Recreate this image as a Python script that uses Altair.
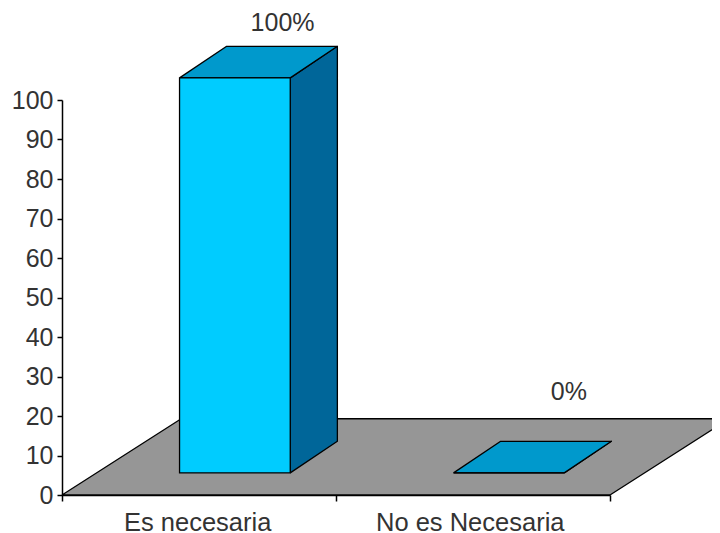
import altair as alt
import pandas as pd

categories = ["Es necesaria", "No es Necesaria"]
values = [100, 0]
labels = ["100%", "0%"]
label_x = [0.805, 1.85]
label_y = [119.5, 26.0]
category_x = [0.495, 1.49]
y_ticks = list(range(0, 101, 10))

FONT = "Liberation Sans"
TEXT = "#333333"
BAR_LEFT = 0.429
BAR_WIDTH = 0.404
BASE = 5.6
DEPTH_X, DEPTH_Y = 0.172, 8.0
FLOOR_X, FLOOR_Y = 0.435, 19.3

x_scale = alt.Scale(domain=[0, 2], range=[0, 548], nice=False, zero=False)
y_scale = alt.Scale(domain=[0, 100], range=[395, 0], nice=False, zero=False)


def X():
    return alt.X("x:Q", scale=x_scale, title=None,
                 axis=alt.Axis(values=[0, 1, 2], labels=False, grid=False, tickSize=6,
                               tickColor="black", domainColor="black", tickWidth=1.5, domainWidth=1.5))


def Y():
    return alt.Y("y:Q", scale=y_scale, title=None,
                 axis=alt.Axis(values=y_ticks, grid=False, tickSize=5, tickColor="black",
                               domainColor="black", tickWidth=1.5, domainWidth=1.5,
                               labelFont=FONT, labelFontSize=25, labelColor=TEXT, labelPadding=4))


def poly(name, pts):
    closed = pts + [pts[0]]
    return [{"c": name, "i": k, "x": p[0], "y": p[1]} for k, p in enumerate(closed)]


floor_pts = poly("floor", [(0, 0), (2, 0), (2 + FLOOR_X, FLOOR_Y), (FLOOR_X, FLOOR_Y)])
front, top, side = [], [], []
for i, (c, v) in enumerate(zip(categories, values)):
    x0 = i + BAR_LEFT
    x1 = x0 + BAR_WIDTH
    yb = BASE
    yt = BASE + v
    front.append({"c": c, "x": x0, "x2": x1, "y": yb, "y2": yt})
    top += poly(c, [(x0, yt), (x1, yt), (x1 + DEPTH_X, yt + DEPTH_Y), (x0 + DEPTH_X, yt + DEPTH_Y)])
    side += poly(c, [(x1, yb), (x1 + DEPTH_X, yb + DEPTH_Y), (x1 + DEPTH_X, yt + DEPTH_Y), (x1, yt)])


def face(rows, colour):
    return alt.Chart(pd.DataFrame(rows)).mark_line(
        fill=colour, stroke="black", strokeWidth=1.3, strokeJoin="round"
    ).encode(x=X(), y=Y(), detail="c:N", order="i:Q")


front_l = alt.Chart(pd.DataFrame(front)).mark_rect(
    color="#00CCFF", stroke="black", strokeWidth=1.3
).encode(x=X(), x2="x2:Q", y=Y(), y2="y2:Q")

val_text = alt.Chart(pd.DataFrame({"t": labels, "x": label_x, "y": label_y})).mark_text(
    font=FONT, fontSize=25, color=TEXT, align="center", baseline="middle").encode(
    x=X(), y=Y(), text="t:N")
cat_text = alt.Chart(pd.DataFrame({"t": categories, "x": category_x})).mark_text(
    font=FONT, fontSize=25.5, color=TEXT, align="center", baseline="middle").encode(
    x=X(), y=alt.value(423), text="t:N")

chart = alt.layer(
    face(floor_pts, "#969696"), face(side, "#006699"), face(top, "#0099CC"),
    front_l, val_text, cat_text
).properties(
    width=650, height=395,
    autosize=alt.AutoSizeParams(type="none"),
    padding={"left": 54, "top": 92, "right": 0, "bottom": 46},
).configure_view(stroke=None)

chart.save("out.html", embed_options={"renderer": "svg", "actions": False})
